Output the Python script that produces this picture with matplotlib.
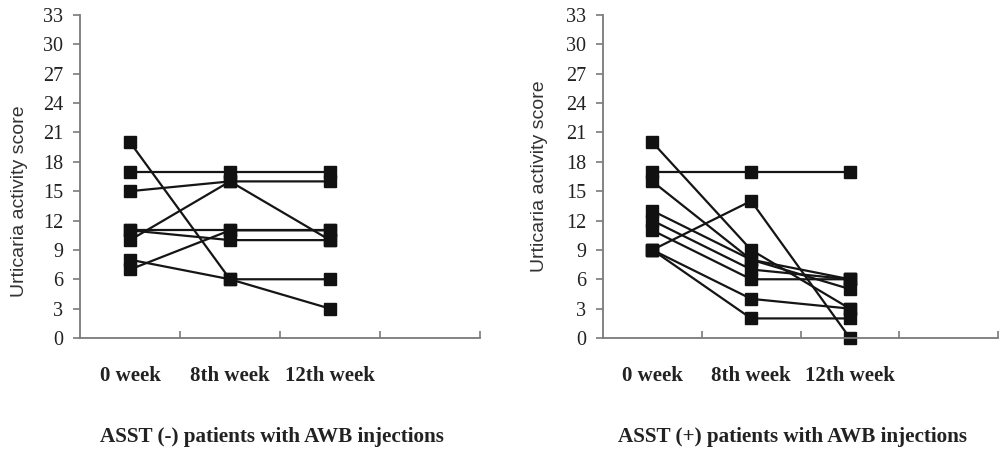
import matplotlib.pyplot as plt
import numpy as np

# timepoints (categories)
weeks = ['0 week', '8th week', '12th week']

# ASST (-) group, one list per patient: 0 / 8th / 12th week
neg_p1 = [20, 6, 3]
neg_p2 = [17, 17, 17]
neg_p3 = [15, 16, 16]
neg_p4 = [10, 16, 10]
neg_p5 = [11, 11, 11]
neg_p6 = [11, 10, 10]
neg_p7 = [7, 11, 11]
neg_p8 = [8, 6, 6]

# ASST (+) group
pos_p1 = [17, 17, 17]
pos_p2 = [20, 9, 3]
pos_p3 = [16, 8, 5]
pos_p4 = [13, 8, 6]
pos_p5 = [12, 7, 6]
pos_p6 = [11, 6, 6]
pos_p7 = [9, 14, 0]
pos_p8 = [9, 4, 3]
pos_p9 = [9, 2, 2]

neg_group = [neg_p1, neg_p2, neg_p3, neg_p4, neg_p5, neg_p6, neg_p7, neg_p8]
pos_group = [pos_p1, pos_p2, pos_p3, pos_p4, pos_p5, pos_p6, pos_p7, pos_p8, pos_p9]

titles = ['ASST (-) patients with AWB injections', 'ASST (+) patients with AWB injections']
yticks = np.arange(0, 34, 3)

fig = plt.figure(figsize=(9.99, 4.51), dpi=100)
W, H = 999, 451
ax1 = fig.add_axes([80 / W, (H - 338) / H, 400 / W, 323 / H])
ax2 = fig.add_axes([603 / W, (H - 338) / H, 395 / W, 323 / H])

xpos = np.arange(len(weeks)) + 0.5

# (axes, data, subtitle, ylabel x, ylabel y) -- label positions differ in the original
panels = [(ax1, neg_group, titles[0], -0.13, 0.424),
          (ax2, pos_group, titles[1], -0.139, 0.50)]

for ax, group, title, lx, ly in panels:
    for pat in group:
        ax.plot(xpos, pat, color='#151515', lw=1.6, marker='s', ms=8.5,
                mfc='#111111', mec='#111111', clip_on=False)
    ax.set_xlim(0, 4)
    ax.set_ylim(0, 33)
    ax.spines['top'].set_visible(False)
    ax.spines['right'].set_visible(False)
    for s in ['left', 'bottom']:
        ax.spines[s].set_color('#7a7a7a')
        ax.spines[s].set_linewidth(1.3)
    ax.set_yticks(yticks)
    ax.set_yticklabels([str(v) for v in yticks], family='Liberation Serif',
                       fontsize=14.5, color='#222222')
    ax.tick_params(axis='y', direction='out', length=5, width=1.2, color='#7a7a7a', pad=7)
    ax.set_xticks([1, 2, 3, 4])
    ax.set_xticklabels([])
    ax.tick_params(axis='x', which='major', direction='in', length=5, width=1.2, color='#7a7a7a')
    ax.set_xticks(xpos, minor=True)
    ax.set_xticklabels(weeks, minor=True, family='Liberation Serif', fontweight='bold',
                       fontsize=15, color='#222222')
    ax.tick_params(axis='x', which='minor', length=0, pad=20)
    ax.set_ylabel('Urticaria activity score', family='Liberation Sans', fontsize=14,
                  color='#333333')
    ax.yaxis.set_label_coords(lx, ly)
    ax.text(0.48, -0.305, title, transform=ax.transAxes, ha='center', va='center',
            family='Liberation Serif', fontweight='bold', fontsize=15.2, color='#222222')

fig.savefig('out.png', dpi=100)
